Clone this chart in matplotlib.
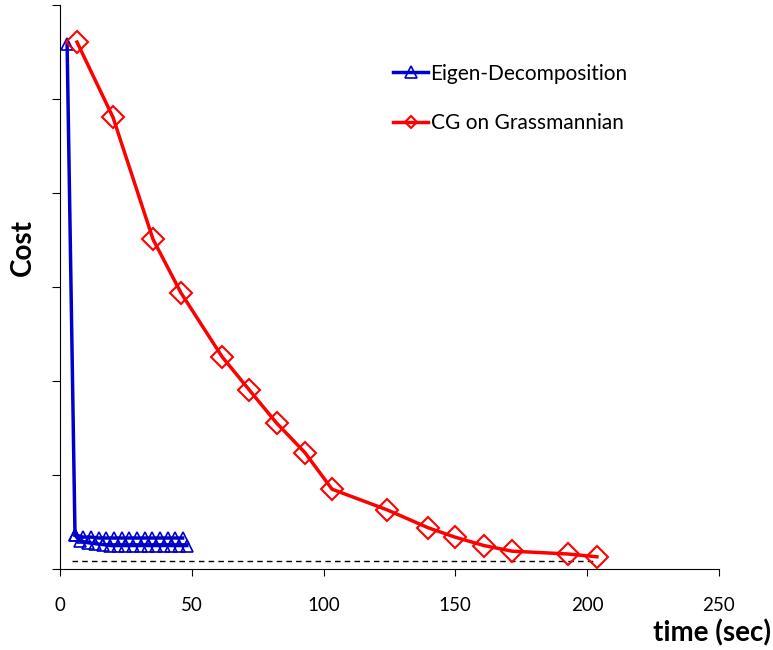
import matplotlib.pyplot as plt

# Eigen-decomposition: two overlapping runs
eig_time = [2.7, 5.7, 7.6, 10.5, 13.3, 16.2, 19.0, 21.9, 24.8, 27.7, 30.6,
            33.5, 36.4, 39.3, 42.2, 45.1, 48.1]
eig_cost = [5.59, 0.36, 0.30, 0.28, 0.27, 0.26, 0.25, 0.25, 0.25, 0.25, 0.25,
            0.25, 0.25, 0.25, 0.25, 0.25, 0.25]
eig2_time = [5.7, 8.85, 11.8, 14.8, 17.6, 20.5, 23.4, 26.3, 29.1, 32.1, 35.0,
             37.9, 40.8, 43.7, 46.5]
eig2_cost = [0.36, 0.34, 0.34, 0.33, 0.33, 0.33, 0.33, 0.33, 0.33, 0.33, 0.33,
             0.33, 0.33, 0.33, 0.33]

# CG on Grassmannian
cg_time = [6.45, 20.1, 35.3, 45.9, 61.5, 71.7, 82.3, 92.9, 103.2, 124.1,
           139.6, 149.8, 160.8, 171.5, 192.7, 203.7]
cg_cost = [5.61, 4.81, 3.51, 2.94, 2.26, 1.91, 1.55, 1.24, 0.85, 0.63,
           0.44, 0.34, 0.25, 0.19, 0.16, 0.13]

# optimum reference level (dashed)
opt_time = [4.5, 203.7]
opt_cost = [0.085, 0.085]

x_ticks = [0, 50, 100, 150, 200, 250]
y_ticks = [0, 1, 2, 3, 4, 5, 6]

plt.rcParams["font.family"] = ["Lato", "DejaVu Sans"]

fig = plt.figure(figsize=(7.73, 6.5), dpi=100)
ax = fig.add_axes([0.0776, 0.1246, 0.8525, 0.867])

ax.plot(opt_time, opt_cost, color="black", lw=1.0, ls=(0, (4, 3)))
ax.plot(eig2_time, eig2_cost, color="#0000CC", lw=2.5, marker="^",
        ms=9, mfc="none", mec="#0000CC", mew=1.2)
ax.plot(eig_time, eig_cost, color="#0000CC", lw=2.5, marker="^",
        ms=9, mfc="none", mec="#0000CC", mew=1.2,
        label="Eigen-Decomposition")
ax.plot(cg_time, cg_cost, color="#FF0000", lw=2.5, marker="D",
        ms=11, mfc="none", mec="#FF0000", mew=1.5,
        label="CG on Grassmannian")

ax.set_xlim(0, 250)
ax.set_ylim(0, 6)
ax.set_xticks(x_ticks)
ax.set_yticks(y_ticks)
ax.set_yticklabels([])
ax.tick_params(axis="x", direction="out", length=5, labelsize=13.5, pad=15)
ax.tick_params(axis="y", direction="out", length=6)

for side in ["top", "right"]:
    ax.spines[side].set_visible(False)

fig.text(0.997, 0.027, "time (sec)", fontsize=20, fontweight="bold",
         ha="right", va="center")
fig.text(0.03, 0.62, "Cost", fontsize=20, fontweight="bold",
         rotation=90, ha="center", va="center")

leg = ax.legend(loc="upper left", bbox_to_anchor=(0.477, 0.93),
                frameon=False, fontsize=15, handlelength=1.7,
                handletextpad=0.1, labelspacing=1.4)
leg.legend_handles[0].set_markersize(9)
leg.legend_handles[1].set_markersize(6.5)

fig.savefig("out.png", dpi=100)
